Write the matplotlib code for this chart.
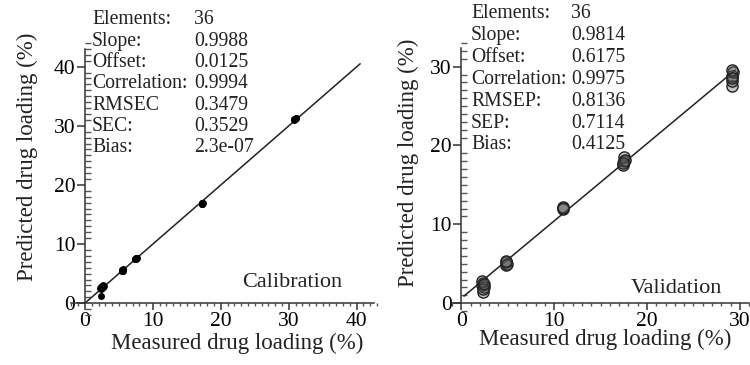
import numpy as np
from matplotlib import pyplot as plt
from matplotlib.ticker import MultipleLocator

plt.rcParams['font.family'] = ['Liberation Serif', 'DejaVu Serif']

# Calibration data (36 elements)
cal_measured = [2.2, 2.3, 2.4, 2.5, 2.6, 2.7, 2.3, 2.5, 2.6, 2.4, 2.8, 2.3,
                5.5, 5.5, 5.6, 5.4, 5.5, 5.6,
                7.4, 7.5, 7.5, 7.6, 7.4, 7.5,
                17.2, 17.3, 17.3, 17.4, 17.2, 17.3,
                30.8, 30.9, 31.0, 30.9, 31.0, 30.8]
cal_predicted = [2.6, 2.8, 2.5, 2.9, 2.7, 3.0, 1.2, 2.6, 2.8, 2.7, 2.9, 2.4,
                 5.5, 5.6, 5.7, 5.4, 5.6, 5.5,
                 7.4, 7.6, 7.5, 7.7, 7.5, 7.6,
                 16.7, 16.9, 16.8, 17.0, 16.8, 16.9,
                 31.0, 31.2, 31.4, 31.1, 31.3, 31.2]
cal_stats = [('Elements:', '36'), ('Slope:', '0.9988'), ('Offset:', '0.0125'),
             ('Correlation:', '0.9994'), ('RMSEC', '0.3479'), ('SEC:', '0.3529'),
             ('Bias:', '2.3e-07')]
cal_slope, cal_offset = 0.9988, 0.0125

# Validation data
val_measured = [2.2, 2.3, 2.3, 2.4, 2.2, 2.3, 2.4,
                4.8, 4.8, 4.9, 4.8,
                10.9, 10.9, 11.0,
                17.4, 17.5, 17.5, 17.6, 17.4,
                29.1, 29.2, 29.2, 29.3, 29.2, 29.1]
val_predicted = [2.3, 2.6, 1.4, 2.0, 2.8, 1.8, 2.4,
                 4.9, 5.2, 5.0, 5.3,
                 12.0, 12.2, 12.1,
                 17.5, 18.0, 18.5, 18.2, 17.8,
                 27.6, 28.2, 28.8, 29.3, 29.6, 28.5]
val_stats = [('Elements:', '36'), ('Slope:', '0.9814'), ('Offset:', '0.6175'),
             ('Correlation:', '0.9975'), ('RMSEP:', '0.8136'), ('SEP:', '0.7114'),
             ('Bias:', '0.4125')]
val_slope, val_offset = 0.9814, 0.6175

fig = plt.figure(figsize=(7.5, 3.65), dpi=100)
ax1 = fig.add_axes([68 / 750, 50 / 365, 309 / 750, 272 / 365])
ax2 = fig.add_axes([452 / 750, 50 / 365, 300 / 750, 272 / 365])


def style_axis(ax, xlim, ylim, xb, yb, ticks):
    ax.set_xlim(*xlim)
    ax.set_ylim(*ylim)
    ax.spines['top'].set_visible(False)
    ax.spines['right'].set_visible(False)
    ax.spines['left'].set_position(('data', 0))
    ax.spines['bottom'].set_position(('data', 0))
    ax.spines['left'].set_bounds(*yb)
    ax.spines['bottom'].set_bounds(*xb)
    for s in ('left', 'bottom'):
        ax.spines[s].set_linewidth(1.1)
        ax.spines[s].set_color('#333333')
    ax.set_xticks(ticks[0])
    ax.set_yticks(ticks[1])
    ax.xaxis.set_minor_locator(MultipleLocator(1))
    ax.yaxis.set_minor_locator(MultipleLocator(1))
    ax.tick_params(axis='x', which='major', direction='out', length=5, width=1.1,
                   color='#333333', labelsize=15.5, pad=1)
    ax.tick_params(axis='x', which='minor', direction='out', length=2.5, width=1.0,
                   color='#555555')
    ax.tick_params(axis='y', which='major', direction='out', length=6, width=1.1,
                   color='#333333', labelsize=15.5, pad=1)
    ax.tick_params(axis='y', which='minor', direction='in', length=4, width=1.0,
                   color='#555555')
    ax.set_xlabel('Measured drug loading (%)', fontsize=16.5)
    ax.set_ylabel('Predicted drug loading (%)', fontsize=16.5, va='center')
    ax.yaxis.get_label().set_color('#222222')
    ax.xaxis.get_label().set_color('#222222')


# Calibration panel
style_axis(ax1, (-2.5, 43), (-2, 44), (-2, 42.6), (0, 43),
           ([0, 10, 20, 30, 40], [0, 10, 20, 30, 40]))
xs = np.array([0, 40.5])
ax1.plot(xs, cal_slope * xs + cal_offset, color='#222222', lw=1.1)
ax1.scatter(cal_measured, cal_predicted, s=16, color='black', zorder=3)
ax1.xaxis.set_label_coords(0.547, -0.066)
ax1.yaxis.set_label_coords(-0.13, 0.58)
ax1.text(0.887, 0.121, 'Calibration', transform=ax1.transAxes, fontsize=16,
         ha='right', va='center', color='#222222')

# Validation panel
style_axis(ax2, (-1, 31.3), (-1.5, 33), (-1, 31), (0, 32.4),
           ([0, 10, 20, 30], [0, 10, 20, 30]))
xs = np.array([0.3, 29.5])
ax2.plot(xs, val_slope * xs + val_offset, color='#222222', lw=1.1)
ax2.scatter(val_measured, val_predicted, s=65, facecolor=(0.35, 0.35, 0.35, 0.35),
            edgecolor='#222222', linewidth=1.0, zorder=3)
ax2.xaxis.set_label_coords(0.51, -0.05)
ax2.yaxis.set_label_coords(-0.145, 0.56)
ax2.text(0.9, 0.099, 'Validation', transform=ax2.transAxes, fontsize=16,
         ha='right', va='center', color='#222222')

# stats text blocks (figure pixel positions)
for stats, xl, xv, y0, dy in [(cal_stats, 92, 194, 20, 21.3), (val_stats, 471, 571, 14, 21.8)]:
    for i, (label, value) in enumerate(stats):
        y = 1 - (y0 + i * dy) / 365
        fig.text(xl / 750, y, label, fontsize=14.2, va='center', ha='left', color='#222222')
        fig.text(xv / 750, y, value, fontsize=14.2, va='center', ha='left', color='#222222')

fig.savefig('out.png', dpi=100)
